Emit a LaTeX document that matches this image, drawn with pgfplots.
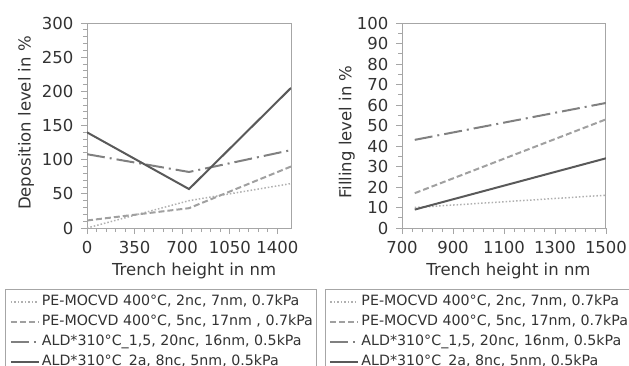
\documentclass[border=0pt]{standalone}
\usepackage{fontspec}
\setmainfont{DejaVu Sans}
\usepackage{pgfplots}
\pgfplotsset{compat=1.18}
\definecolor{axgray}{HTML}{A6A6A6}
\definecolor{txt}{HTML}{333333}
\definecolor{cSolid}{HTML}{595959}
\definecolor{cDashDot}{HTML}{808080}
\definecolor{cDash}{HTML}{A0A0A0}
\definecolor{cDot}{HTML}{B0B0B0}
\pgfplotsset{
 mystyle/.style={
  scale only axis, width=204pt, height=205pt,
  axis line style={axgray, line width=1pt},
  tick style={axgray, line width=0.8pt},
  tick align=outside, xtick pos=bottom, ytick pos=left,
  major tick length=6pt, minor tick length=4pt,
  ticklabel style={font=\fontsize{16.5}{18}\selectfont, text=txt},
  xticklabel style={yshift=-4pt},
  yticklabel style={xshift=-4pt},
  label style={font=\fontsize{16.5}{18}\selectfont, text=txt},
  /pgf/number format/assume math mode=true,
  /pgf/number format/1000 sep={},
  legend cell align=left,
  legend image code/.code={\draw[##1] (0pt,0pt) -- (28pt,0pt);},
  legend style={draw=axgray, line width=1pt, font=\fontsize{14.2}{17}\selectfont, text=txt,
    anchor=north west, inner xsep=4pt, inner ysep=6pt, row sep=7pt,
    nodes={inner sep=0pt, text height=10pt, text depth=3pt},
    /tikz/every odd column/.append style={column sep=2pt}},
 },
 dotS/.style={cDot, line width=1.5pt, dash pattern=on 1.5pt off 2pt},
 dashS/.style={cDash, line width=2pt, dash pattern=on 6pt off 3pt},
 ddS/.style={cDashDot, line width=2pt, dash pattern=on 18pt off 5pt on 2pt off 5pt},
 solS/.style={cSolid, line width=2pt},
}
\begin{document}
\begin{tikzpicture}
\path[use as bounding box, clip] (0,0) rectangle (629pt,365pt);
\begin{axis}[mystyle, at={(87pt,137pt)}, anchor=south west,
  xmin=0, xmax=1500, ymin=0, ymax=300,
  xtick={0,350,...,1400}, ytick={0,50,...,300},
  minor x tick num=4, minor y tick num=4,
  xlabel={Trench height in nm}, ylabel={Deposition level in \%},
  xlabel style={at={(axis description cs:0.525,-0.21)}, anchor=center},
  ylabel style={at={(axis description cs:-0.299,0.512)}, anchor=center, rotate=0},
  legend style={at={(-0.4,-0.2976)}},
]
\addplot[dotS] coordinates {(0,0) (750,40) (1500,65)};
\addlegendentry{PE-MOCVD 400°C, 2nc, 7nm, 0.7kPa}
\addplot[dashS] coordinates {(0,11) (750,29) (1500,90)};
\addlegendentry{PE-MOCVD 400°C, 5nc, 17nm , 0.7kPa}
\addplot[ddS] coordinates {(0,108) (750,82) (1500,114)};
\addlegendentry{ALD*310°C\_1,5, 20nc, 16nm, 0.5kPa}
\addplot[solS] coordinates {(0,140) (750,57) (1500,205)};
\addlegendentry{ALD*310°C\_2a, 8nc, 5nm, 0.5kPa}
\end{axis}
\begin{axis}[mystyle, at={(402pt,137pt)}, anchor=south west,
  xmin=700, xmax=1500, ymin=0, ymax=100,
  xtick={700,900,...,1500}, ytick={0,10,...,100},
  minor x tick num=4, minor y tick num=1,
  xlabel={Trench height in nm}, ylabel={Filling level in \%},
  xlabel style={at={(axis description cs:0.522,-0.21)}, anchor=center},
  ylabel style={at={(axis description cs:-0.27,0.468)}, anchor=center, rotate=0},
  legend style={at={(-0.3775,-0.2976)}},
]
\addplot[dotS] coordinates {(750,10) (1500,16)};
\addlegendentry{PE-MOCVD 400°C, 2nc, 7nm, 0.7kPa}
\addplot[dashS] coordinates {(750,17) (1500,53)};
\addlegendentry{PE-MOCVD 400°C, 5nc, 17nm, 0.7kPa}
\addplot[ddS] coordinates {(750,43) (1500,61)};
\addlegendentry{ALD*310°C\_1,5, 20nc, 16nm, 0.5kPa}
\addplot[solS] coordinates {(750,9) (1500,34)};
\addlegendentry{ALD*310°C\_2a, 8nc, 5nm, 0.5kPa}
\end{axis}
\end{tikzpicture}
\end{document}
